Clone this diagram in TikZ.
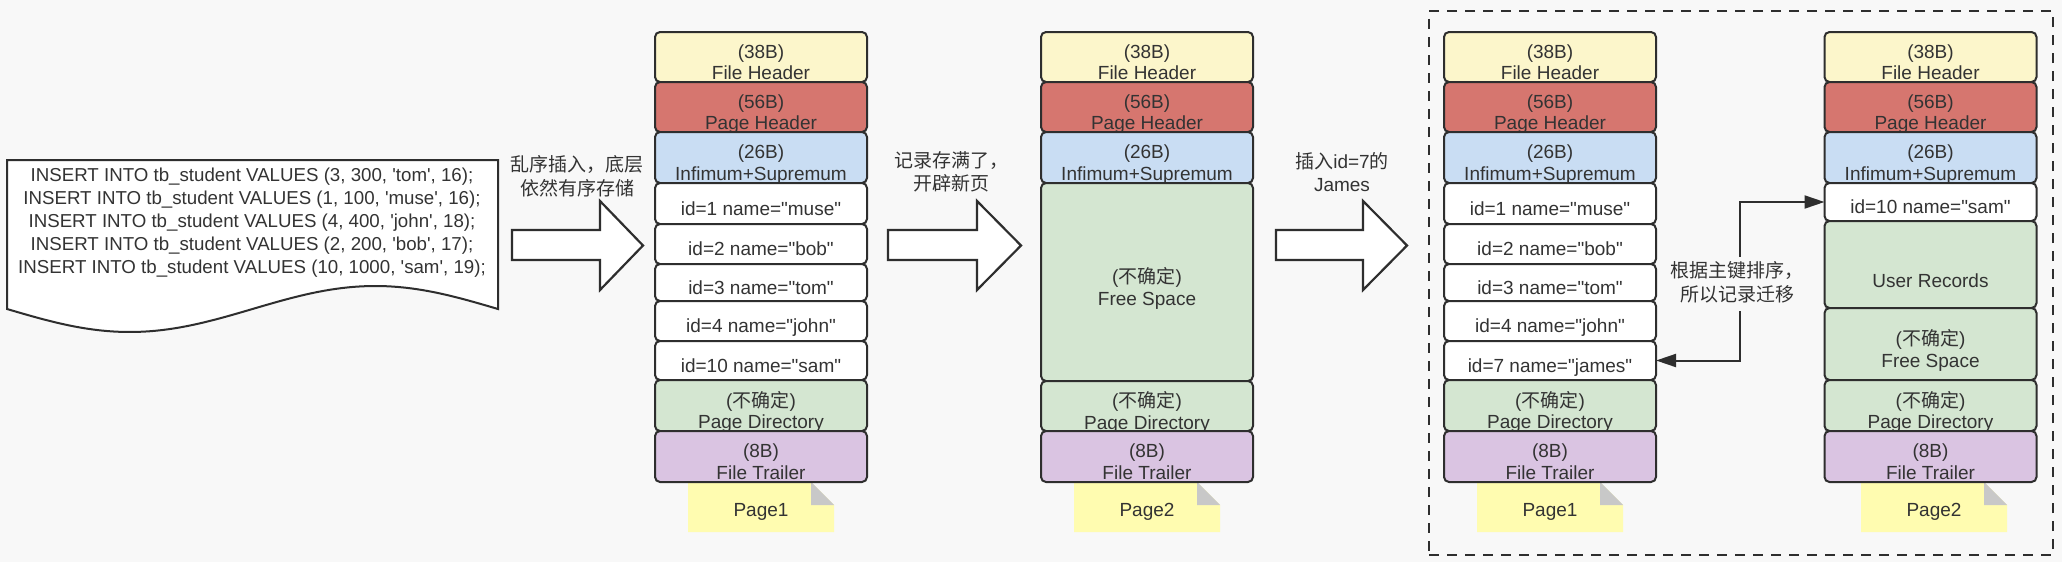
\documentclass[tikz,border=0pt]{standalone}
\usepackage{fontspec}
\setmainfont{Liberation Sans}[Ligatures=TeXOff]
\newfontfamily\cjkfont{Noto Sans CJK SC}
\newcommand\zh[1]{{\cjkfont #1}}
\usetikzlibrary{arrows.meta}
\definecolor{bgc}{HTML}{F8F8F8}
\definecolor{linec}{HTML}{2E2E2E}
\definecolor{textc}{HTML}{333333}
\definecolor{fhc}{HTML}{FCF6CB}
\definecolor{phc}{HTML}{D6766F}
\definecolor{infc}{HTML}{C9DDF3}
\definecolor{grnc}{HTML}{D4E6D1}
\definecolor{purc}{HTML}{DAC4E2}
\definecolor{notec}{HTML}{FFFCB0}
\definecolor{foldc}{HTML}{C8C8C8}
\newcommand\segm[6]{%
  \node[segbox,fill=#5,minimum height=#4pt,anchor=north] (#1) at (#2,#3) {};
  \node[segtxt] (#1t) at ([yshift=-7.5pt]#1.center) {\strut#6\strut};}
\newcommand\notep[3]{%
  \fill[notec] (#2-73,482) -- (#2+50,482) -- (#2+73,505) -- (#2+73,532) -- (#2-73,532) -- cycle;
  \fill[foldc] (#2+50,482) -- (#2+73,505) -- (#2+50,505) -- cycle;
  \node[segtxt] (#1) at (#2,512.4) {\strut #3\strut};}
% block arrow: tail x, head-base x, tip x
\newcommand\barrow[3]{%
  \draw[blockarrow] (#1,230) -- (#2,230) -- (#2,201) -- (#3,245.5) -- (#2,290) -- (#2,260) -- (#1,260) -- cycle;}
\begin{document}
\begin{tikzpicture}[x=1pt,y=-1pt,
  segbox/.style={draw=linec,line width=2pt,rounded corners=5pt,minimum width=212pt,inner sep=0pt,outer sep=0pt},
  segtxt/.style={font=\fontsize{19}{21.6}\selectfont,align=center,text=textc,inner sep=0pt},
  lbl/.style={font=\fontsize{19}{23}\selectfont,align=center,text=textc,inner sep=0pt},
  blockarrow/.style={draw=linec,fill=white,line width=2.2pt},
  conn/.style={draw=linec,line width=2pt,{Triangle[length=20pt,width=13pt]}-{Triangle[length=20pt,width=13pt]}},
  frame/.style={draw=linec,line width=2.2pt,dash pattern=on 10pt off 8pt,minimum width=624pt,minimum height=544pt,inner sep=0pt}]
\useasboundingbox (0,0) rectangle (2062,562);
\fill[bgc] (0,0) rectangle (2062,562);

% document shape with SQL
\draw[linec,line width=2pt,fill=white] (7,160) -- (498,160) -- (498,309)
  -- plot[domain=498:7,samples=80] (\x,{309+23*sin(0.733198*(\x-7))}) -- cycle;
\node[font=\fontsize{18.7}{23}\selectfont,align=center,text=textc,inner sep=0pt] (sql) at (252,223)
  {\strut INSERT INTO tb\_student VALUES (3, 300, 'tom', 16);\\
   INSERT INTO tb\_student VALUES (1, 100, 'muse', 16);\\
   INSERT INTO tb\_student VALUES (4, 400, 'john', 18);\\
   INSERT INTO tb\_student VALUES (2, 200, 'bob', 17);\\
   INSERT INTO tb\_student VALUES (10, 1000, 'sam', 19);\strut};

% block arrows and captions
\barrow{512}{600}{643}
\barrow{888}{977}{1021}
\barrow{1276}{1363}{1407}
\node[lbl] (t1) at (577,179) {\strut\zh{乱序插入，底层}\\\zh{依然有序存储}\strut};
\node[lbl] (t2) at (951,174) {\strut\zh{记录存满了，}\\\zh{开辟新页}\strut};
\node[lbl] (t3) at (1342,175) {\strut\zh{插入}id=7\zh{的}\\James\strut};

% dashed frame
\node[frame] (fr) at (1741,283) {};

% notes
\notep{n1}{761}{Page1}
\notep{n2}{1147}{Page2}
\notep{n3}{1550}{Page1}
\notep{n4}{1934}{Page2}

% Page1
\segm{a1}{761}{32}{50}{fhc}{(38B)\\File Header}
\segm{a2}{761}{82}{50}{phc}{(56B)\\Page Header}
\segm{a3}{761}{132}{51}{infc}{(26B)\\Infimum+Supremum}
\segm{a4}{761}{183}{41}{white}{id=1 name="muse"}
\segm{a5}{761}{224}{40}{white}{id=2 name="bob"}
\segm{a6}{761}{264}{37}{white}{id=3 name="tom"}
\segm{a7}{761}{301}{40}{white}{id=4 name="john"}
\segm{a8}{761}{341}{39}{white}{id=10 name="sam"}
\segm{a9}{761}{380}{51}{grnc}{(\zh{不确定})\\Page Directory}
\segm{a10}{761}{431}{51}{purc}{(8B)\\File Trailer}

% Page2
\segm{b1}{1147}{32}{50}{fhc}{(38B)\\File Header}
\segm{b2}{1147}{82}{50}{phc}{(56B)\\Page Header}
\segm{b3}{1147}{132}{51}{infc}{(26B)\\Infimum+Supremum}
\segm{b4}{1147}{183}{198}{grnc}{(\zh{不确定})\\Free Space}
\segm{b5}{1147}{381}{50}{grnc}{(\zh{不确定})\\Page Directory}
\segm{b6}{1147}{431}{51}{purc}{(8B)\\File Trailer}

% Page1 after insert
\segm{c1}{1550}{32}{50}{fhc}{(38B)\\File Header}
\segm{c2}{1550}{82}{50}{phc}{(56B)\\Page Header}
\segm{c3}{1550}{132}{51}{infc}{(26B)\\Infimum+Supremum}
\segm{c4}{1550}{183}{41}{white}{id=1 name="muse"}
\segm{c5}{1550}{224}{40}{white}{id=2 name="bob"}
\segm{c6}{1550}{264}{37}{white}{id=3 name="tom"}
\segm{c7}{1550}{301}{40}{white}{id=4 name="john"}
\segm{c8}{1550}{341}{39}{white}{id=7 name="james"}
\segm{c9}{1550}{380}{51}{grnc}{(\zh{不确定})\\Page Directory}
\segm{c10}{1550}{431}{51}{purc}{(8B)\\File Trailer}

% Page2 after insert
\segm{d1}{1930.5}{32}{50}{fhc}{(38B)\\File Header}
\segm{d2}{1930.5}{82}{50}{phc}{(56B)\\Page Header}
\segm{d3}{1930.5}{132}{51}{infc}{(26B)\\Infimum+Supremum}
\segm{d4}{1930.5}{183}{38}{white}{id=10 name="sam"}
\segm{d5}{1930.5}{221}{87}{grnc}{\\User Records}
\segm{d6}{1930.5}{308}{72}{grnc}{(\zh{不确定})\\Free Space}
\segm{d7}{1930.5}{380}{51}{grnc}{(\zh{不确定})\\Page Directory}
\segm{d8}{1930.5}{431}{51}{purc}{(8B)\\File Trailer}

% migration connector
\draw[conn] (c8.east) -- ++(84,0) |- (d4.west);
\node[lbl,font=\fontsize{19}{24}\selectfont,fill=bgc,inner sep=3pt] (t4) at (1737,284.4)
  {\strut\zh{根据主键排序，}\\\zh{所以记录迁移}\strut};
\end{tikzpicture}
\end{document}
